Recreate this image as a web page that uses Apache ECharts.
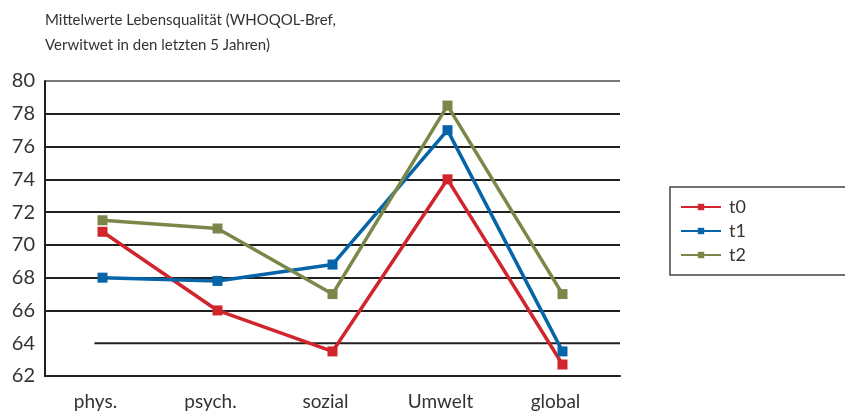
<!DOCTYPE html>
<html><head><meta charset="utf-8">
<script src="https://cdn.jsdelivr.net/npm/echarts@6/dist/echarts.min.js"></script>
<style>html,body{margin:0;padding:0;background:#fff}#c{width:845px;height:411px}</style>
</head><body><div id="c"></div>
<script>
const categories = ['phys.', 'psych.', 'sozial', 'Umwelt', 'global'];
const t0 = [70.8, 66.0, 63.5, 74.0, 62.7];
const t1 = [68.0, 67.8, 68.8, 77.0, 63.5];
const t2 = [71.5, 71.0, 67.0, 78.5, 67.0];
const yTicks = [62, 64, 66, 68, 70, 72, 74, 76, 78, 80];
const titleText = 'Mittelwerte Lebensqualität (WHOQOL-Bref,\nVerwitwet in den letzten 5 Jahren)';

const FONT = 'Lato';
const chart = echarts.init(document.getElementById('c'));
function mk(name, data, color) {
  return {
    name, type: 'line', data, color,
    symbol: 'rect', symbolSize: 10,
    lineStyle: { width: 3.5, color },
    itemStyle: { color },
    animation: false
  };
}
const splitColors = yTicks.map(v => v === 64 ? 'rgba(0,0,0,0)' : (v === 80 ? '#777' : '#231f20'));
chart.setOption({
  animation: false,
  title: {
    text: titleText, left: 40, top: 3,
    textStyle: { fontFamily: FONT, fontSize: 15, fontWeight: 'normal', color: '#333', lineHeight: 25 }
  },
  legend: {
    orient: 'vertical', left: 670, top: 187,
    padding: [11, 114, 11, 10],
    itemWidth: 40, itemHeight: 8, itemGap: 6,
    borderColor: '#444', borderWidth: 1.5,
    textStyle: { fontFamily: FONT, fontSize: 18, color: '#333', padding: [0, 0, 0, 3] },
    data: ['t0', 't1', 't2']
  },
  grid: { left: 45, right: 225, top: 81, bottom: 35, containLabel: false },
  xAxis: {
    type: 'category', data: categories, boundaryGap: true,
    axisLine: { lineStyle: { color: '#231f20', width: 2 } },
    axisTick: { inside: true, length: 6, lineStyle: { color: '#231f20', width: 1.5 } },
    axisLabel: { fontFamily: FONT, fontSize: 19, color: '#333', margin: 16, padding: [0, 14, 0, 0] }
  },
  yAxis: {
    type: 'value', min: 62, max: 80, interval: 2,
    axisLine: { show: true, lineStyle: { color: '#231f20', width: 2 } },
    axisTick: { show: false },
    axisLabel: { fontFamily: FONT, fontSize: 20, color: '#333', margin: 10 },
    splitLine: { show: true, lineStyle: { color: splitColors, width: 2 } }
  },
  series: [
    mk('t0', t0, '#d0252d'),
    mk('t1', t1, '#0565a8'),
    mk('t2', t2, '#7a8749')
  ]
});
const a = chart.convertToPixel({ gridIndex: 0 }, [0, 64]);
const b = chart.convertToPixel({ gridIndex: 0 }, [1, 64]);
const last = chart.convertToPixel({ gridIndex: 0 }, [categories.length - 1, 64]);
const band = b[0] - a[0];
const x2 = last[0] + band / 2;
chart.setOption({
  graphic: [{
    type: 'line', z: 0,
    shape: { x1: a[0] - band * 0.07, y1: a[1], x2: x2, y2: a[1] },
    style: { stroke: '#231f20', lineWidth: 2 }
  }]
});
</script></body></html>
